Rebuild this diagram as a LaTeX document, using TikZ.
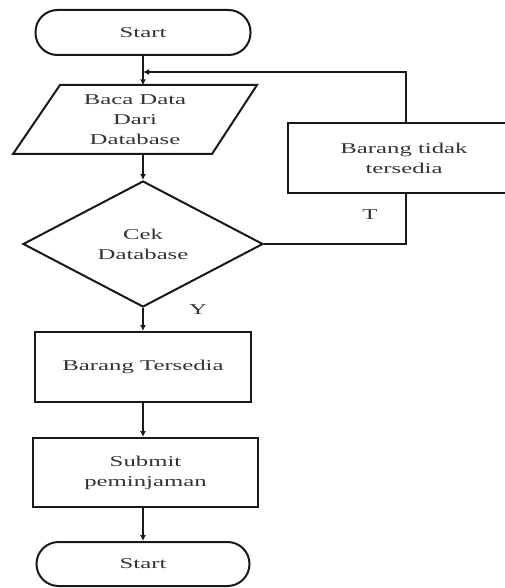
\documentclass[tikz,border=0pt]{standalone}
\usepackage{fontspec}
\setmainfont{Liberation Serif}[FakeStretch=1.65]
\usetikzlibrary{shapes.geometric,arrows.meta}
\begin{document}
\begin{tikzpicture}[x=1pt,y=-1pt,
  every node/.style={font=\fontsize{15}{20}\selectfont, text=black!80},
  line/.style={draw=black!90, line width=2pt},
  arr/.style={line, -{Latex[length=6pt,width=6pt]}},
  term/.style={line, rectangle, rounded corners=22pt, minimum width=215pt, minimum height=45pt, inner sep=0pt},
  procbox/.style={line, rectangle, minimum width=216pt, minimum height=70pt, align=center, inner sep=0pt},
  decision/.style={line, diamond, minimum width=240pt, minimum height=126pt, align=center, inner sep=0pt},
  lbl/.style={font=\fontsize{15}{20}\selectfont}]
\useasboundingbox (0,0) rectangle (505,588);
\clip (0,0) rectangle (505,588);
% start
\node[term] (start) at (143,32.5) {Start};
% read (parallelogram drawn around an invisible node)
\node[minimum width=244pt, minimum height=69pt, inner sep=0pt, align=center] (read) at (135,120) {Baca Data\\Dari\\Database};
\draw[line, line join=miter] (60,85) -- (257,85) -- (212,154) -- (13,154) -- cycle;
% decision
\node[decision] (cek) at (143,244) {Cek\\Database};
% not available
\node[line, rectangle, minimum width=232pt, minimum height=70pt, align=center, inner sep=0pt] (tidak) at (404,158) {Barang tidak\\tersedia};
% available
\node[procbox] (ada) at (143,367) {Barang Tersedia};
\node[procbox, minimum width=225pt, minimum height=69pt] (submit) at (145.5,472.5) {Submit\\peminjaman};
\node[term, minimum width=213pt, minimum height=44pt] (end) at (143,564) {Start};
% connectors
\coordinate (j) at (143,72);
\draw[arr] (start.south) -- (start.south |- read.north);
\draw[arr] (start.south |- read.south) -- (cek.north);
\draw[line] (cek.east) -| (406,0 |- tidak.south);
\draw[arr] (406,0 |- tidak.north) |- (j);
\draw[arr] (cek.south) -- (ada.north);
\draw[arr] (ada.south) -- (ada.south |- submit.north);
\draw[arr] (ada.south |- submit.south) -- (end.north);
% labels
\node[lbl] (t) at (370,215) {T};
\node[lbl] (y) at (198,310) {Y};
\end{tikzpicture}
\end{document}
